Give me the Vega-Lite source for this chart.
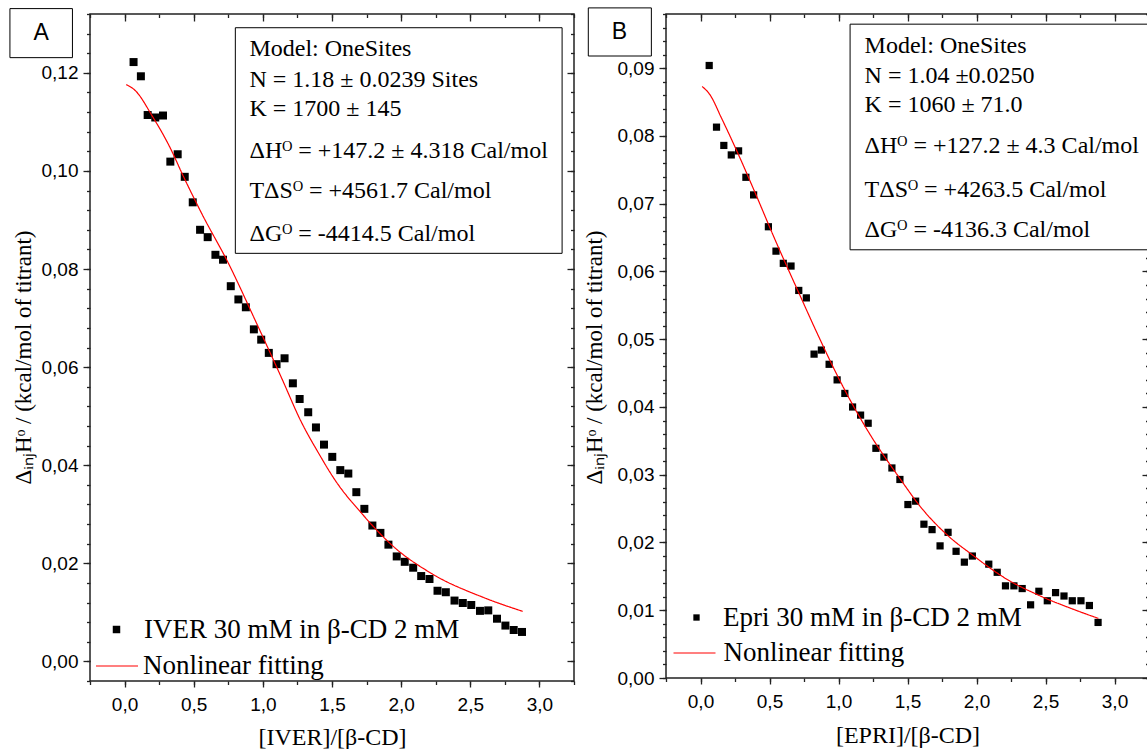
{
  "$schema": "https://vega.github.io/schema/vega-lite/v6.json",
  "background": "white",
  "padding": {"left": 8, "top": 6, "right": 0, "bottom": 0},
  "spacing": 92,
  "bounds": "flush",
  "config": {
    "view": {"stroke": "#222", "strokeWidth": 1.5},
    "axis": {"grid": false, "domain": false, "labelFont": "Liberation Sans", "labelFontSize": 19, "labelColor": "#000", "tickColor": "#222", "tickWidth": 1.3, "titleFont": "Liberation Serif", "titleFontSize": 24, "titleFontWeight": "normal", "titleColor": "#000"},
    "legend": {"labelFont": "Liberation Serif", "labelFontSize": 27, "labelColor": "#000", "labelLimit": 600, "padding": 0, "offset": 0}
  },
  "resolve": {"scale": {"x": "independent", "y": "independent", "color": "independent", "strokeDash": "independent"}, "legend": {"color": "independent", "strokeDash": "independent"}},
  "hconcat": [
    {
      "width": 484,
      "height": 667,
      "resolve": {"axis": {"x": "independent", "y": "independent"}},
      "layer": [
        {
          "data": {"values": [
            {"x": 0.065, "y": 0.1222}, {"x": 0.118, "y": 0.1193}, {"x": 0.167, "y": 0.1114}, {"x": 0.222, "y": 0.1109}, {"x": 0.278, "y": 0.1113},
            {"x": 0.331, "y": 0.1019}, {"x": 0.384, "y": 0.1034}, {"x": 0.435, "y": 0.0988}, {"x": 0.493, "y": 0.0936}, {"x": 0.546, "y": 0.0880},
            {"x": 0.601, "y": 0.0865}, {"x": 0.657, "y": 0.0829}, {"x": 0.712, "y": 0.0819}, {"x": 0.768, "y": 0.0765}, {"x": 0.823, "y": 0.0738},
            {"x": 0.877, "y": 0.0722}, {"x": 0.935, "y": 0.0677}, {"x": 0.988, "y": 0.0656}, {"x": 1.043, "y": 0.0629}, {"x": 1.099, "y": 0.0606},
            {"x": 1.157, "y": 0.0618}, {"x": 1.217, "y": 0.0567}, {"x": 1.266, "y": 0.0535}, {"x": 1.328, "y": 0.0508}, {"x": 1.384, "y": 0.0477},
            {"x": 1.442, "y": 0.0442}, {"x": 1.502, "y": 0.0417}, {"x": 1.560, "y": 0.0390}, {"x": 1.618, "y": 0.0383}, {"x": 1.676, "y": 0.0345},
            {"x": 1.734, "y": 0.0311}, {"x": 1.792, "y": 0.0277}, {"x": 1.850, "y": 0.0262}, {"x": 1.908, "y": 0.0238}, {"x": 1.968, "y": 0.0214},
            {"x": 2.026, "y": 0.0203}, {"x": 2.087, "y": 0.0191}, {"x": 2.145, "y": 0.0174}, {"x": 2.205, "y": 0.0168}, {"x": 2.263, "y": 0.0144},
            {"x": 2.323, "y": 0.0141}, {"x": 2.386, "y": 0.0124}, {"x": 2.446, "y": 0.0119}, {"x": 2.507, "y": 0.0115}, {"x": 2.570, "y": 0.0103},
            {"x": 2.630, "y": 0.0104}, {"x": 2.693, "y": 0.0087}, {"x": 2.754, "y": 0.0073}, {"x": 2.814, "y": 0.0064}, {"x": 2.874, "y": 0.0060}
          ]},
          "mark": {"type": "point", "shape": "square", "filled": true, "size": 64, "opacity": 1},
          "encoding": {
            "x": {"field": "x", "type": "quantitative", "scale": {"domain": [-0.25, 3.25], "nice": false, "zero": false},
              "axis": {"orient": "bottom", "values": [0, 0.5, 1, 1.5, 2, 2.5, 3], "labelExpr": "replace(format(datum.value, '.1f'), '.', ',')", "tickSize": 6, "labelPadding": 8, "title": "[IVER]/[β-CD]", "titlePadding": 11}},
            "y": {"field": "y", "type": "quantitative", "scale": {"domain": [-0.004, 0.132], "nice": false, "zero": false},
              "axis": {"orient": "left", "values": [0, 0.02, 0.04, 0.06, 0.08, 0.1, 0.12], "labelExpr": "replace(format(datum.value, '.2f'), '.', ',')", "tickSize": 7, "labelPadding": 5, "title": "ΔᵢₙⱼHᵒ / (kcal/mol of titrant)", "titleFont": "Liberation Serif", "titleFontSize": 23, "titlePadding": 6, "titleY": 343}},
            "color": {"datum": "IVER 30 mM in β-CD 2 mM", "type": "nominal",
              "scale": {"range": ["#000000"]},
              "legend": {"title": null, "orient": "none", "legendX": 13, "legendY": 602, "symbolType": "square", "symbolSize": 56, "symbolStrokeWidth": 0, "labelOffset": 14}}
          }
        },
        {
          "data": {"values": [
            {"x": 0.012, "y": 0.1176}, {"x": 0.077, "y": 0.1164}, {"x": 0.2, "y": 0.1112}, {"x": 0.33, "y": 0.1047}, {"x": 0.427, "y": 0.0988},
            {"x": 0.56, "y": 0.0912}, {"x": 0.754, "y": 0.0810}, {"x": 0.947, "y": 0.0694}, {"x": 1.14, "y": 0.0575}, {"x": 1.273, "y": 0.0491},
            {"x": 1.4, "y": 0.0426}, {"x": 1.526, "y": 0.0368}, {"x": 1.72, "y": 0.0300}, {"x": 1.937, "y": 0.0236}, {"x": 2.227, "y": 0.0178},
            {"x": 2.589, "y": 0.0131}, {"x": 2.879, "y": 0.0102}
          ]},
          "mark": {"type": "line", "interpolate": "monotone", "strokeWidth": 1.2, "color": "#ff0000"},
          "encoding": {
            "x": {"field": "x", "type": "quantitative", "scale": {"domain": [-0.25, 3.25], "nice": false, "zero": false},
              "axis": {"orient": "bottom", "values": [-0.25, 0, 0.25, 0.5, 0.75, 1, 1.25, 1.5, 1.75, 2, 2.25, 2.5, 2.75, 3, 3.25], "labels": false, "tickSize": 3.5, "title": null}},
            "y": {"field": "y", "type": "quantitative", "scale": {"domain": [-0.004, 0.132], "nice": false, "zero": false},
              "axis": {"orient": "left", "values": [-0.004, 0, 0.004, 0.008, 0.012, 0.016, 0.02, 0.024, 0.028, 0.032, 0.036, 0.04, 0.044, 0.048, 0.052, 0.056, 0.06, 0.064, 0.068, 0.072, 0.076, 0.08, 0.084, 0.088, 0.092, 0.096, 0.1, 0.104, 0.108, 0.112, 0.116, 0.12, 0.124, 0.128, 0.132], "labels": false, "tickSize": 3.5, "title": null}},
            "strokeDash": {"datum": "Nonlinear fitting", "type": "nominal", "scale": {"range": [[1, 0]]},
              "legend": {"title": null, "orient": "none", "legendX": 5, "legendY": 630, "symbolType": "stroke", "symbolSize": 1764, "symbolStrokeColor": "#ff0000", "symbolStrokeWidth": 1.2, "labelOffset": 4}}
          }
        },
        {
          "data": {"values": [{"x1": 0.801, "x2": 3.164, "y1": 0.1292, "y2": 0.0832}]},
          "mark": {"type": "rect", "fill": "white", "stroke": "#000", "strokeWidth": 1},
          "encoding": {
            "x": {"field": "x1", "type": "quantitative", "scale": {"domain": [-0.25, 3.25], "nice": false, "zero": false},
              "axis": {"orient": "top", "values": [0, 0.5, 1, 1.5, 2, 2.5, 3], "labels": false, "tickSize": -7, "title": null}},
            "x2": {"field": "x2"},
            "y": {"field": "y1", "type": "quantitative", "scale": {"domain": [-0.004, 0.132], "nice": false, "zero": false},
              "axis": {"orient": "right", "values": [0, 0.02, 0.04, 0.06, 0.08, 0.1, 0.12], "labels": false, "tickSize": -7, "title": null}},
            "y2": {"field": "y2"}
          }
        },
        {
          "data": {"values": [
            {"t": "Model: OneSites", "x": 0.903, "y": 0.1234},
            {"t": "N = 1.18 ± 0.0239 Sites", "x": 0.903, "y": 0.1171},
            {"t": "K = 1700 ± 145", "x": 0.903, "y": 0.1112},
            {"t": "ΔHᴼ = +147.2 ± 4.318 Cal/mol", "x": 0.903, "y": 0.1027},
            {"t": "TΔSᴼ = +4561.7 Cal/mol", "x": 0.903, "y": 0.0944},
            {"t": "ΔGᴼ = -4414.5 Cal/mol", "x": 0.903, "y": 0.0857}
          ]},
          "mark": {"type": "text", "align": "left", "baseline": "alphabetic", "font": "Liberation Serif", "fontSize": 24, "color": "#000"},
          "encoding": {
            "x": {"field": "x", "type": "quantitative", "scale": {"domain": [-0.25, 3.25], "nice": false, "zero": false},
              "axis": {"orient": "top", "values": [-0.25, 0, 0.25, 0.5, 0.75, 1, 1.25, 1.5, 1.75, 2, 2.25, 2.5, 2.75, 3, 3.25], "labels": false, "tickSize": -3.5, "title": null}},
            "y": {"field": "y", "type": "quantitative", "scale": {"domain": [-0.004, 0.132], "nice": false, "zero": false},
              "axis": {"orient": "right", "values": [-0.004, 0, 0.004, 0.008, 0.012, 0.016, 0.02, 0.024, 0.028, 0.032, 0.036, 0.04, 0.044, 0.048, 0.052, 0.056, 0.06, 0.064, 0.068, 0.072, 0.076, 0.08, 0.084, 0.088, 0.092, 0.096, 0.1, 0.104, 0.108, 0.112, 0.116, 0.12, 0.124, 0.128, 0.132], "labels": false, "tickSize": -3.5, "title": null}},
            "text": {"field": "t"}
          }
        },
        {
          "data": {"values": [{"x1": -0.829, "x2": -0.377, "y1": 0.1331, "y2": 0.1231}]},
          "mark": {"type": "rect", "fill": "white", "stroke": "#000", "strokeWidth": 1},
          "encoding": {
            "x": {"field": "x1", "type": "quantitative", "axis": null},
            "x2": {"field": "x2"},
            "y": {"field": "y1", "type": "quantitative", "axis": null},
            "y2": {"field": "y2"}
          }
        },
        {
          "data": {"values": [{"t": "A", "x": -0.603, "y": 0.1281}]},
          "mark": {"type": "text", "align": "center", "baseline": "middle", "font": "Liberation Sans", "fontSize": 23, "color": "#000"},
          "encoding": {
            "x": {"field": "x", "type": "quantitative", "axis": null},
            "y": {"field": "y", "type": "quantitative", "axis": null},
            "text": {"field": "t"}
          }
        }
      ]
    },
    {
      "width": 483,
      "height": 664,
      "resolve": {"axis": {"x": "independent", "y": "independent"}},
      "layer": [
        {
          "data": {"values": [
            {"x": 0.063, "y": 0.0904}, {"x": 0.116, "y": 0.0813}, {"x": 0.169, "y": 0.0786}, {"x": 0.223, "y": 0.0772}, {"x": 0.276, "y": 0.0778},
            {"x": 0.329, "y": 0.0739}, {"x": 0.385, "y": 0.0713}, {"x": 0.492, "y": 0.0666}, {"x": 0.547, "y": 0.0630}, {"x": 0.600, "y": 0.0612},
            {"x": 0.656, "y": 0.0608}, {"x": 0.712, "y": 0.0572}, {"x": 0.767, "y": 0.0561}, {"x": 0.823, "y": 0.0478}, {"x": 0.876, "y": 0.0484},
            {"x": 0.932, "y": 0.0463}, {"x": 0.990, "y": 0.0440}, {"x": 1.046, "y": 0.0420}, {"x": 1.102, "y": 0.0400}, {"x": 1.160, "y": 0.0388},
            {"x": 1.215, "y": 0.0376}, {"x": 1.271, "y": 0.0339}, {"x": 1.329, "y": 0.0326}, {"x": 1.387, "y": 0.0310}, {"x": 1.445, "y": 0.0293},
            {"x": 1.503, "y": 0.0256}, {"x": 1.559, "y": 0.0261}, {"x": 1.619, "y": 0.0227}, {"x": 1.678, "y": 0.0219}, {"x": 1.736, "y": 0.0195},
            {"x": 1.794, "y": 0.0215}, {"x": 1.852, "y": 0.0187}, {"x": 1.912, "y": 0.0171}, {"x": 1.970, "y": 0.0180}, {"x": 2.089, "y": 0.0168},
            {"x": 2.150, "y": 0.0156}, {"x": 2.210, "y": 0.0136}, {"x": 2.271, "y": 0.0136}, {"x": 2.331, "y": 0.0132}, {"x": 2.392, "y": 0.0108},
            {"x": 2.452, "y": 0.0128}, {"x": 2.513, "y": 0.0114}, {"x": 2.573, "y": 0.0126}, {"x": 2.634, "y": 0.0121}, {"x": 2.694, "y": 0.0114},
            {"x": 2.757, "y": 0.0114}, {"x": 2.818, "y": 0.0107}, {"x": 2.881, "y": 0.0082}
          ]},
          "mark": {"type": "point", "shape": "square", "filled": true, "size": 52, "opacity": 1},
          "encoding": {
            "x": {"field": "x", "type": "quantitative", "scale": {"domain": [-0.25, 3.25], "nice": false, "zero": false},
              "axis": {"orient": "bottom", "values": [0, 0.5, 1, 1.5, 2, 2.5, 3], "labelExpr": "replace(format(datum.value, '.1f'), '.', ',')", "tickSize": 6, "labelPadding": 8, "title": "[EPRI]/[β-CD]", "titlePadding": 12}},
            "y": {"field": "y", "type": "quantitative", "scale": {"domain": [0, 0.098], "nice": false, "zero": false},
              "axis": {"orient": "left", "values": [0, 0.01, 0.02, 0.03, 0.04, 0.05, 0.06, 0.07, 0.08, 0.09], "labelExpr": "replace(format(datum.value, '.2f'), '.', ',')", "tickSize": 7, "labelPadding": 5, "title": "ΔᵢₙⱼHᵒ / (kcal/mol of titrant)", "titleFont": "Liberation Serif", "titleFontSize": 23, "titlePadding": 11, "titleY": 343}},
            "color": {"datum": "Epri 30 mM in β-CD 2 mM", "type": "nominal",
              "scale": {"range": ["#000000"]},
              "legend": {"title": null, "orient": "none", "legendX": 17, "legendY": 590, "symbolType": "square", "symbolSize": 40, "symbolStrokeWidth": 0, "labelOffset": 13}}
          }
        },
        {
          "data": {"values": [
            {"x": 0.012, "y": 0.0873}, {"x": 0.068, "y": 0.0861}, {"x": 0.153, "y": 0.0826}, {"x": 0.274, "y": 0.0773}, {"x": 0.394, "y": 0.0717},
            {"x": 0.54, "y": 0.0647}, {"x": 0.709, "y": 0.0570}, {"x": 0.854, "y": 0.0505}, {"x": 0.99, "y": 0.0447}, {"x": 1.12, "y": 0.0397},
            {"x": 1.242, "y": 0.0355}, {"x": 1.436, "y": 0.0297}, {"x": 1.605, "y": 0.0250}, {"x": 1.799, "y": 0.0209}, {"x": 1.968, "y": 0.0182},
            {"x": 2.21, "y": 0.0147}, {"x": 2.452, "y": 0.0122}, {"x": 2.694, "y": 0.0102}, {"x": 2.883, "y": 0.0088}
          ]},
          "mark": {"type": "line", "interpolate": "monotone", "strokeWidth": 1.2, "color": "#ff0000"},
          "encoding": {
            "x": {"field": "x", "type": "quantitative", "scale": {"domain": [-0.25, 3.25], "nice": false, "zero": false},
              "axis": {"orient": "bottom", "values": [-0.25, 0, 0.25, 0.5, 0.75, 1, 1.25, 1.5, 1.75, 2, 2.25, 2.5, 2.75, 3, 3.25], "labels": false, "tickSize": 3.5, "title": null}},
            "y": {"field": "y", "type": "quantitative", "scale": {"domain": [0, 0.098], "nice": false, "zero": false},
              "axis": {"orient": "left", "values": [0, 0.002, 0.004, 0.006, 0.008, 0.01, 0.012, 0.014, 0.016, 0.018, 0.02, 0.022, 0.024, 0.026, 0.028, 0.03, 0.032, 0.034, 0.036, 0.038, 0.04, 0.042, 0.044, 0.046, 0.048, 0.05, 0.052, 0.054, 0.056, 0.058, 0.06, 0.062, 0.064, 0.066, 0.068, 0.07, 0.072, 0.074, 0.076, 0.078, 0.08, 0.082, 0.084, 0.086, 0.088, 0.09, 0.092, 0.094, 0.096, 0.098], "labels": false, "tickSize": 3.5, "title": null}},
            "strokeDash": {"datum": "Nonlinear fitting", "type": "nominal", "scale": {"range": [[1, 0]]},
              "legend": {"title": null, "orient": "none", "legendX": 6.5, "legendY": 617, "symbolType": "stroke", "symbolSize": 1764, "symbolStrokeColor": "#ff0000", "symbolStrokeWidth": 1.2, "labelOffset": 7}}
          }
        },
        {
          "data": {"values": [{"x1": 1.084, "x2": 3.4, "y1": 0.0965, "y2": 0.0632}]},
          "mark": {"type": "rect", "fill": "white", "stroke": "#000", "strokeWidth": 1},
          "encoding": {
            "x": {"field": "x1", "type": "quantitative", "scale": {"domain": [-0.25, 3.25], "nice": false, "zero": false},
              "axis": {"orient": "top", "values": [0, 0.5, 1, 1.5, 2, 2.5, 3], "labels": false, "tickSize": -7, "title": null}},
            "x2": {"field": "x2"},
            "y": {"field": "y1", "type": "quantitative", "scale": {"domain": [0, 0.098], "nice": false, "zero": false},
              "axis": {"orient": "right", "values": [0, 0.01, 0.02, 0.03, 0.04, 0.05, 0.06, 0.07, 0.08, 0.09], "labels": false, "tickSize": -7, "title": null}},
            "y2": {"field": "y2"}
          }
        },
        {
          "data": {"values": [
            {"t": "Model: OneSites", "x": 1.189, "y": 0.0922},
            {"t": "N = 1.04 ±0.0250", "x": 1.189, "y": 0.0878},
            {"t": "K = 1060 ± 71.0", "x": 1.189, "y": 0.0836},
            {"t": "ΔHᴼ = +127.2 ± 4.3 Cal/mol", "x": 1.189, "y": 0.0775},
            {"t": "TΔSᴼ = +4263.5 Cal/mol", "x": 1.189, "y": 0.0710},
            {"t": "ΔGᴼ = -4136.3 Cal/mol", "x": 1.189, "y": 0.0651}
          ]},
          "mark": {"type": "text", "align": "left", "baseline": "alphabetic", "font": "Liberation Serif", "fontSize": 24, "color": "#000"},
          "encoding": {
            "x": {"field": "x", "type": "quantitative", "scale": {"domain": [-0.25, 3.25], "nice": false, "zero": false},
              "axis": {"orient": "top", "values": [-0.25, 0, 0.25, 0.5, 0.75, 1, 1.25, 1.5, 1.75, 2, 2.25, 2.5, 2.75, 3, 3.25], "labels": false, "tickSize": -3.5, "title": null}},
            "y": {"field": "y", "type": "quantitative", "scale": {"domain": [0, 0.098], "nice": false, "zero": false},
              "axis": {"orient": "right", "values": [0, 0.002, 0.004, 0.006, 0.008, 0.01, 0.012, 0.014, 0.016, 0.018, 0.02, 0.022, 0.024, 0.026, 0.028, 0.03, 0.032, 0.034, 0.036, 0.038, 0.04, 0.042, 0.044, 0.046, 0.048, 0.05, 0.052, 0.054, 0.056, 0.058, 0.06, 0.062, 0.064, 0.066, 0.068, 0.07, 0.072, 0.074, 0.076, 0.078, 0.08, 0.082, 0.084, 0.086, 0.088, 0.09, 0.092, 0.094, 0.096, 0.098], "labels": false, "tickSize": -3.5, "title": null}},
            "text": {"field": "t"}
          }
        },
        {
          "data": {"values": [{"x1": -0.813, "x2": -0.356, "y1": 0.0989, "y2": 0.0918}]},
          "mark": {"type": "rect", "fill": "white", "stroke": "#000", "strokeWidth": 1},
          "encoding": {
            "x": {"field": "x1", "type": "quantitative", "axis": null},
            "x2": {"field": "x2"},
            "y": {"field": "y1", "type": "quantitative", "axis": null},
            "y2": {"field": "y2"}
          }
        },
        {
          "data": {"values": [{"t": "B", "x": -0.588, "y": 0.0954}]},
          "mark": {"type": "text", "align": "center", "baseline": "middle", "font": "Liberation Sans", "fontSize": 23, "color": "#000"},
          "encoding": {
            "x": {"field": "x", "type": "quantitative", "axis": null},
            "y": {"field": "y", "type": "quantitative", "axis": null},
            "text": {"field": "t"}
          }
        }
      ]
    }
  ]
}
